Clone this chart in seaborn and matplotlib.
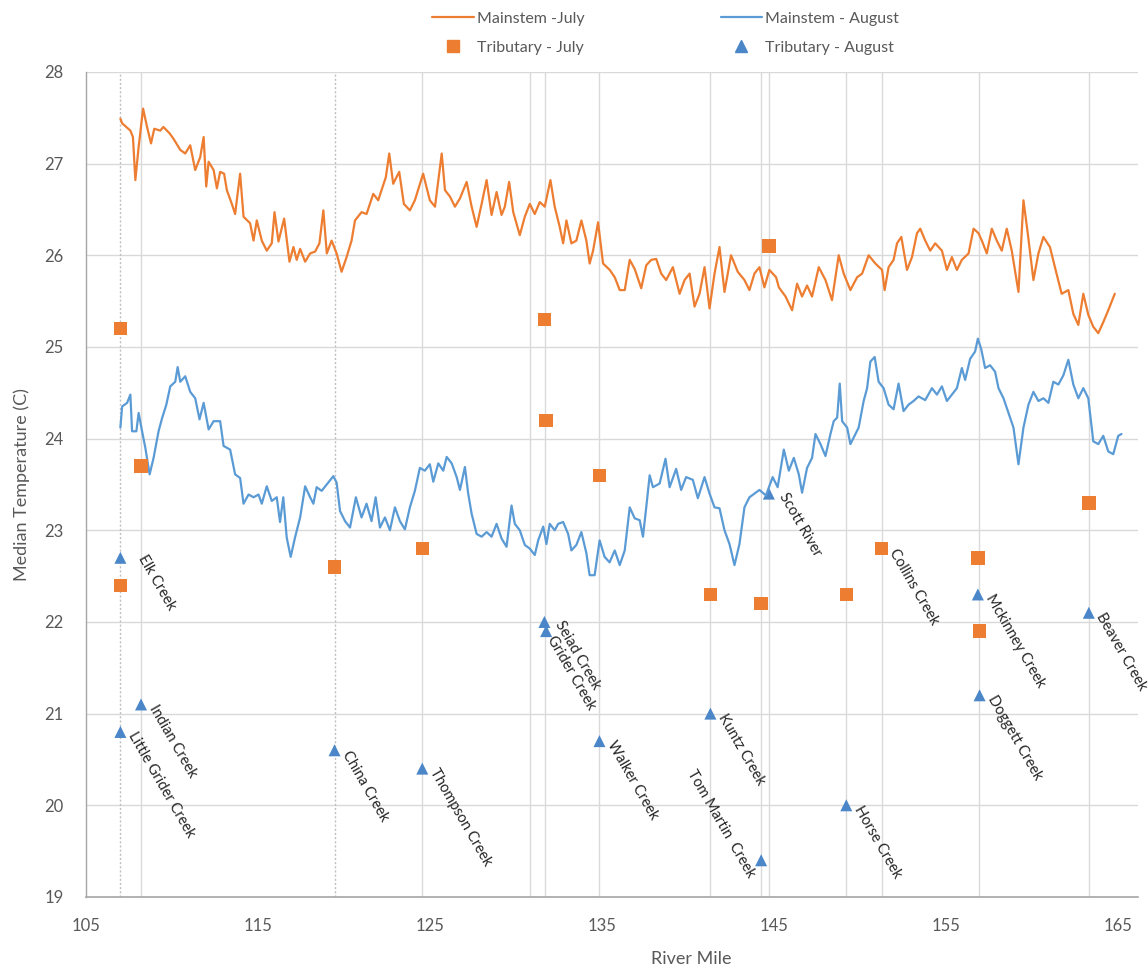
import matplotlib
matplotlib.use("Agg")
import matplotlib.pyplot as plt
from matplotlib.lines import Line2D
import seaborn as sns
import pandas as pd

sns.set_theme(style="white")
plt.rcParams['font.family'] = ['Lato', 'DejaVu Sans']

# ---------------- data ----------------
july_mile = [107.0, 107.1, 107.58, 107.73, 107.87, 108.06, 108.32, 108.55, 108.78, 108.97, 109.32, 109.5, 109.86,
             110.09, 110.48, 110.77, 111.06, 111.35, 111.64, 111.84, 111.99, 112.13, 112.42, 112.61, 112.8, 113.03,
             113.19, 113.48, 113.67, 113.96, 114.16, 114.54, 114.74, 114.93, 115.22, 115.51, 115.8, 115.96, 116.19,
             116.52, 116.83, 117.06, 117.25, 117.45, 117.74, 118.03, 118.32, 118.57, 118.8, 119.0, 119.28, 119.57,
             119.86, 120.15, 120.44, 120.64, 121.02, 121.31, 121.7, 121.99, 122.18, 122.43, 122.63, 122.86, 123.21,
             123.48, 123.83, 124.12, 124.6, 124.99, 125.29, 125.68, 125.87, 126.16, 126.45, 126.74, 127.13, 127.42,
             127.71, 128.0, 128.29, 128.58, 128.87, 129.16, 129.35, 129.6, 129.84, 130.22, 130.51, 130.8, 131.09,
             131.38, 131.67, 132.0, 132.25, 132.54, 132.74, 132.93, 133.22, 133.51, 133.8, 134.09, 134.28, 134.48,
             134.77, 135.06, 135.45, 135.74, 136.03, 136.32, 136.61, 136.9, 137.28, 137.57, 137.86, 138.15, 138.44,
             138.73, 139.12, 139.51, 139.8, 140.09, 140.38, 140.67, 140.96, 141.25, 141.54, 141.83, 142.12, 142.5,
             142.89, 143.28, 143.57, 143.86, 144.15, 144.44, 144.73, 145.12, 145.28, 145.67, 146.05, 146.34, 146.63,
             146.92, 147.21, 147.6, 147.99, 148.37, 148.76, 149.05, 149.44, 149.83, 150.12, 150.5, 150.89, 151.28,
             151.43, 151.66, 151.95, 152.15, 152.4, 152.73, 153.02, 153.31, 153.5, 153.79, 154.08, 154.37, 154.76,
             155.05, 155.34, 155.63, 155.92, 156.31, 156.6, 156.89, 157.08, 157.37, 157.66, 157.95, 158.24, 158.53,
             158.82, 159.21, 159.5, 159.75, 160.08, 160.37, 160.66, 161.04, 161.33, 161.72, 162.11, 162.4, 162.69,
             162.98, 163.27, 163.56, 163.85, 164.14, 164.43, 164.81]
july_temp = [27.49, 27.44, 27.36, 27.29, 26.82, 27.18, 27.6, 27.4, 27.22, 27.38, 27.36, 27.4, 27.33,
             27.27, 27.15, 27.11, 27.2, 26.93, 27.07, 27.29, 26.75, 27.02, 26.93, 26.73, 26.91, 26.89,
             26.71, 26.56, 26.45, 26.89, 26.42, 26.35, 26.16, 26.38, 26.16, 26.05, 26.13, 26.47, 26.15,
             26.4, 25.93, 26.09, 25.95, 26.07, 25.93, 26.02, 26.04, 26.13, 26.49, 26.02, 26.16, 26.02,
             25.82, 25.98, 26.16, 26.38, 26.47, 26.45, 26.67, 26.6, 26.71, 26.85, 27.11, 26.78, 26.91,
             26.56, 26.49, 26.6, 26.89, 26.6, 26.53, 27.11, 26.71, 26.64, 26.53, 26.62, 26.8, 26.53,
             26.31, 26.56, 26.82, 26.44, 26.69, 26.44, 26.53, 26.8, 26.47, 26.22, 26.42, 26.56, 26.45,
             26.58, 26.53, 26.82, 26.53, 26.31, 26.13, 26.38, 26.13, 26.16, 26.38, 26.16, 25.91, 26.05,
             26.36, 25.91, 25.84, 25.76, 25.62, 25.62, 25.95, 25.85, 25.64, 25.89, 25.95, 25.96, 25.8,
             25.73, 25.87, 25.58, 25.73, 25.8, 25.44, 25.58, 25.87, 25.42, 25.8, 26.09, 25.6, 26.0,
             25.82, 25.73, 25.62, 25.8, 25.87, 25.65, 25.84, 25.76, 25.65, 25.55, 25.4, 25.69, 25.55,
             25.67, 25.55, 25.87, 25.73, 25.51, 26.0, 25.8, 25.62, 25.76, 25.8, 26.0, 25.91, 25.84,
             25.62, 25.87, 25.95, 26.13, 26.2, 25.84, 25.98, 26.24, 26.29, 26.16, 26.05, 26.13, 26.05,
             25.84, 25.98, 25.84, 25.95, 26.02, 26.29, 26.24, 26.16, 26.02, 26.29, 26.16, 26.05, 26.29,
             26.05, 25.6, 26.6, 26.24, 25.73, 26.02, 26.2, 26.09, 25.87, 25.58, 25.62, 25.36, 25.24,
             25.58, 25.35, 25.22, 25.15, 25.27, 25.4, 25.58]

aug_mile = [107.0, 107.1, 107.39, 107.58, 107.68, 107.93, 108.06, 108.26, 108.45, 108.7, 108.93, 109.22, 109.42,
            109.67, 109.9, 110.19, 110.33, 110.48, 110.77, 111.06, 111.35, 111.6, 111.84, 112.13, 112.42, 112.8,
            113.0, 113.38, 113.67, 113.96, 114.16, 114.45, 114.74, 115.03, 115.22, 115.51, 115.8, 116.09, 116.28,
            116.47, 116.67, 116.9, 117.15, 117.45, 117.74, 118.03, 118.22, 118.41, 118.7, 119.0, 119.38, 119.57,
            119.77, 120.06, 120.35, 120.69, 121.02, 121.31, 121.6, 121.84, 122.09, 122.38, 122.67, 122.96, 123.25,
            123.54, 123.83, 124.12, 124.41, 124.7, 124.99, 125.19, 125.48, 125.77, 125.97, 126.26, 126.55, 126.74,
            127.03, 127.22, 127.42, 127.71, 128.0, 128.29, 128.58, 128.87, 129.16, 129.45, 129.74, 129.93, 130.22,
            130.51, 130.8, 131.09, 131.29, 131.58, 131.77, 131.96, 132.25, 132.45, 132.74, 133.03, 133.22, 133.51,
            133.8, 134.09, 134.28, 134.57, 134.86, 135.15, 135.44, 135.74, 136.03, 136.32, 136.61, 136.9, 137.19,
            137.38, 137.57, 137.77, 137.96, 138.35, 138.69, 138.93, 139.31, 139.6, 139.89, 140.28, 140.57, 140.96,
            141.25, 141.54, 141.83, 142.12, 142.41, 142.7, 142.99, 143.28, 143.57, 143.86, 144.15, 144.53, 144.92,
            145.21, 145.57, 145.86, 146.15, 146.44, 146.63, 146.92, 147.21, 147.41, 147.7, 147.99, 148.28, 148.47,
            148.67, 148.82, 148.96, 149.25, 149.44, 149.73, 149.92, 150.21, 150.41, 150.6, 150.85, 151.08, 151.37,
            151.66, 151.95, 152.24, 152.53, 152.82, 153.11, 153.4, 153.79, 154.18, 154.47, 154.76, 155.05, 155.34,
            155.63, 155.92, 156.11, 156.4, 156.69, 156.85, 157.04, 157.27, 157.56, 157.85, 158.05, 158.34, 158.63,
            158.92, 159.21, 159.5, 159.79, 160.08, 160.37, 160.66, 160.95, 161.24, 161.53, 161.82, 162.11, 162.4,
            162.69, 162.98, 163.27, 163.56, 163.85, 164.14, 164.43, 164.72, 165.01, 165.2]
aug_temp = [24.12, 24.35, 24.39, 24.48, 24.08, 24.08, 24.28, 24.08, 23.9, 23.61, 23.79, 24.08, 24.22,
            24.37, 24.57, 24.62, 24.78, 24.62, 24.68, 24.51, 24.44, 24.21, 24.39, 24.1, 24.19, 24.19,
            23.92, 23.88, 23.61, 23.57, 23.29, 23.39, 23.36, 23.39, 23.29, 23.48, 23.32, 23.36, 23.09,
            23.36, 22.92, 22.71, 22.92, 23.14, 23.48, 23.36, 23.29, 23.47, 23.43, 23.5, 23.59, 23.52,
            23.21, 23.1, 23.03, 23.36, 23.14, 23.29, 23.1, 23.36, 23.03, 23.14, 23.0, 23.25, 23.1,
            23.01, 23.25, 23.43, 23.68, 23.65, 23.72, 23.53, 23.73, 23.65, 23.8, 23.73, 23.58, 23.44,
            23.69, 23.4, 23.18, 22.96, 22.93, 22.98, 22.93, 23.07, 22.91, 22.82, 23.27, 23.07, 23.0,
            22.84, 22.8, 22.73, 22.89, 23.04, 22.85, 23.07, 23.0, 23.07, 23.09, 22.96, 22.78, 22.84,
            22.98, 22.75, 22.51, 22.51, 22.89, 22.71, 22.65, 22.78, 22.62, 22.78, 23.25, 23.13, 23.11,
            22.93, 23.25, 23.6, 23.47, 23.51, 23.78, 23.47, 23.67, 23.44, 23.58, 23.55, 23.35, 23.58,
            23.4, 23.25, 23.24, 23.0, 22.85, 22.62, 22.85, 23.25, 23.36, 23.4, 23.44, 23.38, 23.58,
            23.47, 23.88, 23.65, 23.79, 23.61, 23.41, 23.68, 23.79, 24.05, 23.94, 23.81, 24.05, 24.19,
            24.23, 24.6, 24.19, 24.12, 23.94, 24.05, 24.12, 24.41, 24.55, 24.84, 24.89, 24.62, 24.55,
            24.37, 24.32, 24.6, 24.3, 24.37, 24.41, 24.46, 24.42, 24.55, 24.48, 24.57, 24.41, 24.48,
            24.55, 24.77, 24.64, 24.87, 24.95, 25.09, 24.98, 24.77, 24.8, 24.73, 24.55, 24.44, 24.28,
            24.12, 23.72, 24.12, 24.37, 24.51, 24.41, 24.44, 24.39, 24.62, 24.59, 24.69, 24.86, 24.59,
            24.44, 24.55, 24.44, 23.97, 23.94, 24.03, 23.86, 23.83, 24.03, 24.05]

trib_names = ["Elk Creek", "Little Grider Creek", "Indian Creek", "China Creek", "Thompson Creek",
              "Seiad Creek", "Grider Creek", "Walker Creek", "Kuntz Creek", "Tom Martin  Creek",
              "Scott River", "Horse Creek", "Collins Creek", "Mckinney Creek", "Doggett Creek", "Beaver Creek"]
trib_mile = [107.0, 107.0, 108.2, 119.45, 124.55, 131.65, 131.75, 134.85, 141.3, 144.25,
             144.7, 149.2, 151.25, 156.85, 156.95, 163.3]
trib_july = [22.4, 25.2, 23.7, 22.6, 22.8, 25.3, 24.2, 23.6, 22.3, 22.2,
             26.1, 22.3, 22.8, 22.7, 21.9, 23.3]
trib_aug = [22.7, 20.8, 21.1, 20.6, 20.4, 22.0, 21.9, 20.7, 21.0, 19.4,
            23.4, 20.0, 22.8, 22.3, 21.2, 22.1]

ref_mile_dotted = [107.0, 119.45]
ref_mile_solid = [108.2, 124.55, 130.8, 131.7, 134.85, 141.3, 144.25, 144.7, 149.2, 151.25, 156.9, 163.3]

x_ticks = [105, 115, 125, 135, 145, 155, 165]
y_ticks = [19, 20, 21, 22, 23, 24, 25, 26, 27, 28]

# ---------------- style ----------------
ORANGE = "#ED7D31"
BLUE = "#5B9BD5"
TRI_BLUE = "#4A86C8"
GRID = "#D9D9D9"
TXT = "#595959"

july_df = pd.DataFrame({"mile": july_mile, "temp": july_temp})
aug_df = pd.DataFrame({"mile": aug_mile, "temp": aug_temp})
trib_df = pd.DataFrame({"name": trib_names, "mile": trib_mile, "july": trib_july, "aug": trib_aug})

fig = plt.figure(figsize=(11.48, 9.76), dpi=100)
ax = fig.add_axes([0.0749, 0.081, 0.9164, 0.8453])

# horizontal grid
for yv in y_ticks:
    ax.axhline(yv, color=GRID, lw=1.0, zorder=0)
# vertical reference lines at tributaries
for xv in ref_mile_dotted:
    ax.axvline(xv, color="#BFBFBF", lw=1.0, ls=(0, (1.5, 1.5)), zorder=0.5)
for xv in ref_mile_solid:
    ax.axvline(xv, color="#DADADA", lw=1.0, zorder=0.5)

sns.lineplot(data=july_df, x="mile", y="temp", ax=ax, color=ORANGE, lw=1.6, sort=False,
             estimator=None, zorder=3)
sns.lineplot(data=aug_df, x="mile", y="temp", ax=ax, color=BLUE, lw=1.6, sort=False,
             estimator=None, zorder=3)
sns.scatterplot(data=trib_df, x="mile", y="aug", ax=ax, marker="^", s=75, color=TRI_BLUE,
                edgecolor="none", zorder=2.5)
sns.scatterplot(data=trib_df, x="mile", y="july", ax=ax, marker="s", s=95, color=ORANGE,
                edgecolor="none", zorder=4)

# labels
for name, mx, my in zip(trib_names, trib_mile, trib_aug):
    if name.startswith("Tom Martin"):
        ax.annotate(name, (mx, my), xytext=(-7, -12), textcoords="offset points",
                    rotation=-60, rotation_mode="anchor", ha="right", va="center",
                    fontsize=10.5, color="#262626")
        continue
    dx, dy = 8, -1
    if name == "Elk Creek":
        dx, dy = 15, 1
    if name == "Grider Creek":
        dx, dy = 3, -4
    if name == "Seiad Creek":
        dx, dy = 10, 0
    if name == "Scott River":
        dx, dy = 10, 0
    ax.annotate(name, (mx, my), xytext=(dx, dy), textcoords="offset points",
                rotation=-60, rotation_mode="anchor", ha="left", va="center",
                fontsize=10.5, color="#262626")

ax.set_xlim(105, 166.16)
ax.set_ylim(19, 28)
ax.set_xticks(x_ticks)
ax.set_yticks(y_ticks)
ax.tick_params(axis="x", which="major", direction="out", length=5, width=1, color="#A6A6A6",
               labelsize=12, labelcolor=TXT, pad=10)
ax.tick_params(axis="y", which="major", length=0, labelsize=12, labelcolor=TXT, pad=16)
for s in ["top", "right"]:
    ax.spines[s].set_visible(False)
ax.spines["left"].set_color("#A6A6A6")
ax.spines["bottom"].set_color("#A6A6A6")
ax.spines["left"].set_linewidth(1.0)
ax.spines["bottom"].set_linewidth(1.2)

ax.set_xlabel("River Mile", fontsize=13, color=TXT)
ax.set_ylabel("Median Temperature (C)", fontsize=13, color=TXT)
ax.xaxis.set_label_coords(0.575, -0.066)
ax.yaxis.set_label_coords(-0.053, 0.5)

handles = [Line2D([0], [0], color=ORANGE, lw=1.6),
           Line2D([0], [0], ls="none", marker="s", markersize=8, color=ORANGE),
           Line2D([0], [0], color=BLUE, lw=1.6),
           Line2D([0], [0], ls="none", marker="^", markersize=8, color=TRI_BLUE)]
labels = ["Mainstem -July", "Tributary - July", "Mainstem - August", "Tributary - August"]
leg = ax.legend(handles, labels, ncol=2, loc="center", bbox_to_anchor=(0.58, 0.966),
                bbox_transform=fig.transFigure, frameon=False, fontsize=11.5, handlelength=2.6,
                columnspacing=8.5, handletextpad=0.2, labelspacing=0.95)
for t in leg.get_texts():
    t.set_color(TXT)

fig.savefig("out.png", dpi=100)
